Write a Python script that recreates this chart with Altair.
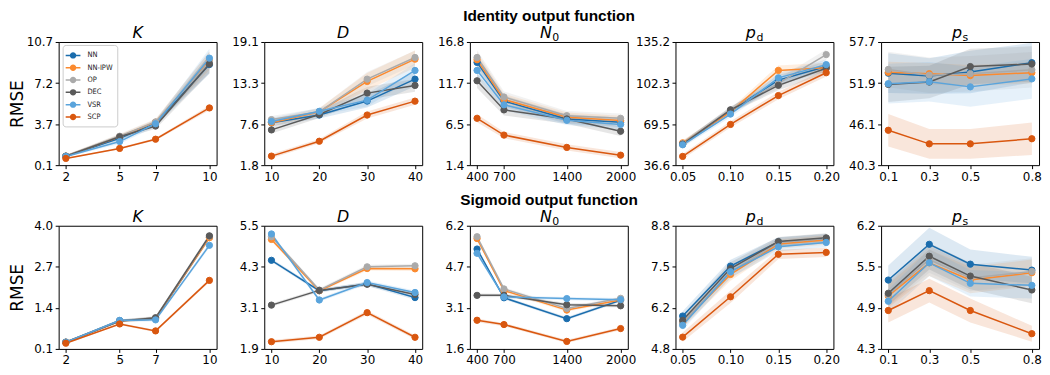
import altair as alt
import numpy as np
import pandas as pd

METHODS = ["NN", "NN-IPW", "OP", "DEC", "VSR", "SCP"]
COLORS = ["#1b6dad", "#fb8a2f", "#aaaaaa", "#5a5a5a", "#5aa4dc", "#d9570f"]

ROW_TITLES = ["Identity output function", "Sigmoid output function"]
PANEL_MAIN = ["K", "D", "N", "p", "p"]
PANEL_SUB = ["", "", "0", "d", "s"]
TITLE_SHIFT = [0, 0, 3, 1.5, 2]

X_VALUES = [[2, 5, 7, 10], [10, 20, 30, 40], [400, 700, 1400, 2000],
            [0.05, 0.10, 0.15, 0.20], [0.1, 0.3, 0.5, 0.8]]
X_FORMAT = ["d", "d", "d", ".2f", ".1f"]

# y-axis extents (first/last tick of each panel)
Y_DOMAIN_ID = [[0.13, 10.72], [1.8, 19.1], [1.4, 16.8], [36.6, 135.2], [40.3, 57.7]]
Y_DOMAIN_SIG = [[0.1, 4.0], [1.9, 5.5], [1.6, 6.2], [4.83, 8.8], [4.3, 6.16]]

# ---- Identity output function: mean RMSE (rows follow METHODS) ----
ID_K = [[0.90, 2.44, 3.77, 8.78], [0.90, 2.57, 3.82, 9.11], [0.92, 2.62, 3.85, 9.00],
        [0.90, 2.57, 3.49, 8.83], [0.88, 2.16, 3.69, 9.33], [0.71, 1.57, 2.36, 5.05]]
ID_K_ERR = [[0.1, 0.2, 0.25, 0.8], [0.1, 0.2, 0.25, 0.8], [0.1, 0.2, 0.25, 0.9],
            [0.1, 0.2, 0.25, 0.8], [0.1, 0.2, 0.25, 0.8], [0.05, 0.08, 0.1, 0.2]]
ID_D = [[7.75, 8.84, 10.80, 13.88], [7.75, 9.29, 13.56, 16.69], [8.20, 9.30, 13.88, 16.92],
        [6.75, 8.92, 11.92, 13.00], [7.93, 9.36, 10.93, 15.10], [3.07, 5.16, 8.84, 10.79]]
ID_D_ERR = [[0.5, 0.5, 0.9, 1.0], [0.5, 0.5, 1.2, 1.2], [0.5, 0.5, 1.0, 1.0],
            [0.5, 0.5, 0.9, 0.9], [0.5, 0.5, 0.9, 1.0], [0.3, 0.3, 0.5, 0.5]]
ID_N = [[14.25, 9.40, 7.18, 6.77], [14.58, 9.61, 7.38, 6.98], [14.86, 9.92, 7.58, 7.26],
        [11.95, 8.31, 7.18, 5.64], [13.25, 8.95, 7.01, 6.49], [7.26, 5.16, 3.62, 2.65]]
ID_N_ERR = [[0.9, 0.7, 0.6, 0.6], [0.9, 0.7, 0.6, 0.6], [0.9, 0.7, 0.6, 0.6],
            [0.9, 0.7, 0.6, 0.6], [0.9, 0.7, 0.6, 0.6], [0.5, 0.4, 0.4, 0.4]]
ID_PD = [[53.45, 80.1, 104.7, 115.6], [54.5, 79.3, 112.45, 114.5], [53.8, 80.9, 102.0, 125.1],
         [53.45, 80.85, 100.5, 114.2], [52.9, 77.5, 106.5, 117.1], [43.6, 69.2, 92.3, 110.6]]
ID_PD_ERR = [[2, 2.5, 4, 4], [2, 2.5, 4, 4], [2, 2.5, 4, 4],
             [2, 2.5, 4, 4], [2, 2.5, 4, 4], [2, 2.5, 3, 3]]
ID_PS = [[53.30, 52.90, 53.45, 54.78], [53.41, 53.22, 52.95, 53.36], [53.82, 53.00, 53.22, 53.77],
         [51.71, 52.04, 54.23, 54.59], [51.81, 52.08, 51.36, 52.49], [45.23, 43.31, 43.31, 44.03]]
ID_PS_ERR = [[2.8, 2.5, 3.0, 2.8], [1.5, 1.5, 1.5, 1.5], [2.5, 2.5, 2.5, 2.5],
             [2.5, 2.3, 2.5, 2.5], [2.8, 2.8, 2.8, 2.8], [2.3, 2.1, 2.1, 2.3]]

# ---- Sigmoid output function ----
SG_K = [[0.31, 1.00, 1.05, 3.64], [0.31, 0.98, 1.07, 3.62], [0.32, 0.99, 1.09, 3.67],
        [0.31, 0.98, 1.085, 3.68], [0.31, 1.00, 1.02, 3.38], [0.28, 0.89, 0.67, 2.27]]
SG_K_ERR = [[0.02, 0.04, 0.05, 0.07]] * 5 + [[0.02, 0.03, 0.04, 0.05]]
SG_D = [[4.49, 3.60, 3.80, 3.40], [5.10, 3.60, 4.25, 4.24], [5.18, 3.62, 4.30, 4.33],
        [3.18, 3.61, 3.79, 3.49], [5.26, 3.33, 3.84, 3.55], [2.11, 2.24, 2.96, 2.24]]
SG_D_ERR = [[0.05, 0.05, 0.06, 0.06]] * 6
SG_N = [[5.33, 3.51, 2.73, 3.42], [5.72, 3.78, 3.05, 3.43], [5.79, 3.84, 3.11, 3.49],
        [3.60, 3.60, 3.25, 3.21], [5.17, 3.54, 3.48, 3.44], [2.67, 2.51, 1.88, 2.36]]
SG_N_ERR = [[0.07, 0.06, 0.06, 0.06]] * 6
SG_PD = [[5.89, 7.50, 8.28, 8.38], [5.67, 7.23, 8.21, 8.34], [5.68, 7.30, 8.26, 8.39],
         [5.75, 7.42, 8.29, 8.41], [5.59, 7.32, 8.12, 8.26], [5.21, 6.51, 7.88, 7.94]]
SG_PD_ERR = [[0.15, 0.2, 0.15, 0.15]] * 6
SG_PS = [[5.34, 5.88, 5.58, 5.49], [5.10, 5.60, 5.34, 5.45], [5.12, 5.65, 5.37, 5.47],
         [5.14, 5.70, 5.40, 5.19], [5.02, 5.60, 5.29, 5.26], [4.88, 5.18, 4.88, 4.53]]
SG_PS_ERR = [[0.22, 0.25, 0.22, 0.2], [0.18, 0.2, 0.2, 0.2], [0.18, 0.2, 0.2, 0.2],
             [0.18, 0.2, 0.2, 0.2], [0.18, 0.2, 0.2, 0.2], [0.18, 0.18, 0.18, 0.12]]

ROWS = [
    (Y_DOMAIN_ID, [(ID_K, ID_K_ERR), (ID_D, ID_D_ERR), (ID_N, ID_N_ERR), (ID_PD, ID_PD_ERR), (ID_PS, ID_PS_ERR)]),
    (Y_DOMAIN_SIG, [(SG_K, SG_K_ERR), (SG_D, SG_D_ERR), (SG_N, SG_N_ERR), (SG_PD, SG_PD_ERR), (SG_PS, SG_PS_ERR)]),
]

W, H = 159, 124
ROW_GAP = 61
FONT = "DejaVu Sans"
LEGEND_FONT = "'Liberation Sans Narrow', 'DejaVu Sans Condensed', 'Liberation Sans', sans-serif"
LEGEND_PATH = ("M-1.35,0L1.35,0M0.45,0A0.45,0.45,0,1,1,-0.45,0"
               "A0.45,0.45,0,1,1,0.45,0Z")

cscale = alt.Scale(domain=METHODS, range=COLORS)
legend_def = alt.Legend(
    title=None, orient="none", legendX=4, legendY=3,
    symbolType=LEGEND_PATH, symbolSize=121, symbolStrokeWidth=1.5,
    symbolOpacity=1, labelFontSize=7.5, labelFont=LEGEND_FONT,
    labelColor="#222", rowPadding=0.4, padding=4, strokeColor="#cccccc",
    fillColor="rgba(255,255,255,0.85)", cornerRadius=3, labelOffset=8,
)


def panel_df(xs, means, errs):
    rows = []
    for m, mv, ev in zip(METHODS, means, errs):
        for x, v, e in zip(xs, mv, ev):
            rows.append({"x": x, "method": m, "mean": v, "lo": v - e, "hi": v + e})
    return pd.DataFrame(rows)


def make_panel(i, means, errs, ydom, show_ytitle, show_legend):
    xs = X_VALUES[i]
    span = xs[-1] - xs[0]
    xdom = [xs[0] - 0.05 * span, xs[-1] + 0.05 * span]
    yticks = [float(v) for v in np.linspace(ydom[0], ydom[1], 4)]
    df = panel_df(xs, means, errs)

    xaxis = alt.Axis(values=xs, format=X_FORMAT[i], title=None, grid=False)
    yaxis = alt.Axis(values=yticks, format=".1f", grid=False,
                     title="RMSE" if show_ytitle else None,
                     minExtent=30, maxExtent=30, titlePadding=2)
    xsc = alt.Scale(domain=xdom, nice=False, zero=False)
    ysc = alt.Scale(domain=ydom, nice=False, zero=False)

    def X():
        return alt.X("x:Q", scale=xsc, axis=xaxis)

    def Y(f):
        return alt.Y(f + ":Q", scale=ysc, axis=yaxis)

    if show_legend:
        fill_pt = alt.Fill("method:N", scale=cscale, legend=legend_def)
        stroke_pt = alt.Stroke("method:N", scale=cscale, legend=legend_def)
    else:
        fill_pt = alt.Fill("method:N", scale=cscale)
        stroke_pt = alt.Stroke("method:N", scale=cscale)

    base = alt.Chart(df)
    band = base.mark_area(opacity=0.15).encode(
        x=X(), y=Y("lo"), y2="hi:Q",
        fill=alt.Fill("method:N", scale=cscale))
    line = base.mark_line(strokeWidth=1.5).encode(
        x=X(), y=Y("mean"),
        stroke=alt.Stroke("method:N", scale=cscale))
    pts = base.mark_point(filled=True, size=40, opacity=1, strokeWidth=1).encode(
        x=X(), y=Y("mean"), fill=fill_pt, stroke=stroke_pt)

    layers = [band, line, pts]
    c = TITLE_SHIFT[i]
    main = alt.Chart(pd.DataFrame({"t": [PANEL_MAIN[i]]})).mark_text(
        font=FONT, fontStyle="italic", fontSize=16,
        align="right" if PANEL_SUB[i] else "center",
        baseline="alphabetic", dx=c, color="#000",
    ).encode(text="t:N", x=alt.value(W / 2), y=alt.value(-4))
    layers.append(main)
    if PANEL_SUB[i]:
        sub = alt.Chart(pd.DataFrame({"t": [PANEL_SUB[i]]})).mark_text(
            font=FONT, fontSize=11, align="left", baseline="alphabetic",
            dx=c + 0.5, dy=3, color="#000",
        ).encode(text="t:N", x=alt.value(W / 2), y=alt.value(-4))
        layers.append(sub)
    return alt.layer(*layers).properties(width=W, height=H)


rows = []
for r, (ydoms, panels) in enumerate(ROWS):
    charts = []
    for i, (means, errs) in enumerate(panels):
        charts.append(make_panel(i, means, errs, ydoms[i],
                                 show_ytitle=(i == 0), show_legend=(r == 0 and i == 0)))
    rows.append(alt.hconcat(
        *charts, spacing=48, bounds="flush",
        title=alt.Title(ROW_TITLES[r], font="Liberation Sans", fontWeight="bold",
                        fontSize=15.5, anchor="middle", offset=0, dx=24, color="#000"),
    ))

chart = alt.vconcat(*rows, spacing=H + ROW_GAP, bounds="flush").properties(
    padding={"left": 0, "top": 0, "right": 0, "bottom": 0}
).configure_view(stroke="#000", strokeWidth=1).configure_axis(
    labelFont=FONT, labelFontSize=12, labelColor="#000",
    tickColor="#000", tickSize=3.5, labelPadding=2.5, domain=False,
    titleFont=FONT, titleFontSize=17, titleFontWeight="normal", titleColor="#000",
).configure_legend(symbolOpacity=1)

chart.save("out.html", embed_options={"renderer": "svg", "actions": False})
